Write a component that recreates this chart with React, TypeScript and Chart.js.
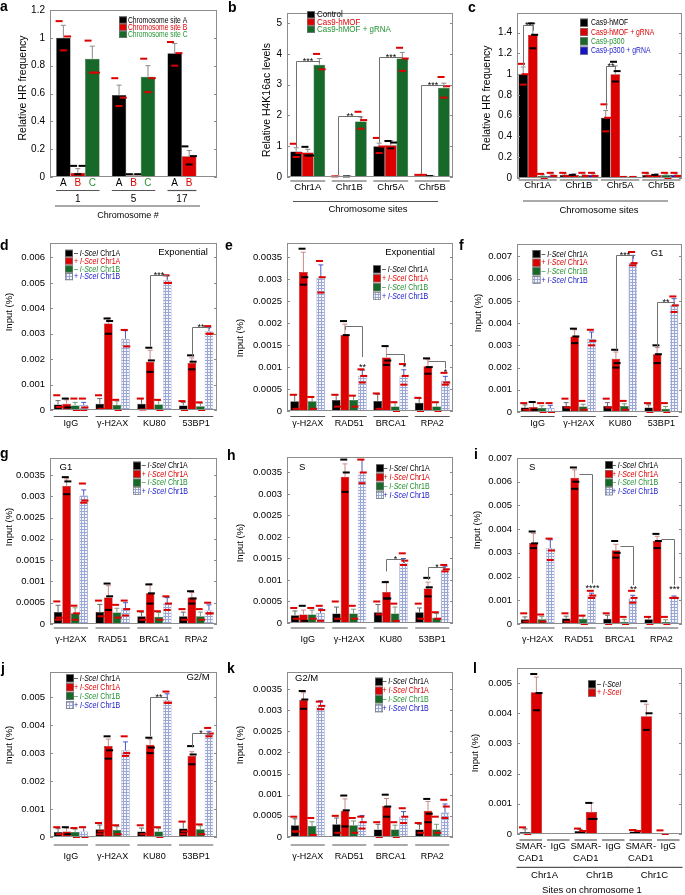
import React, { useEffect, useRef } from 'react';
import { Chart, registerables } from 'chart.js';
Chart.register(...registerables);

const FONT = '"Liberation Sans", Arial, Helvetica, sans-serif';
const RED = '#dc0000';
const GREEN = '#17692a';
const GREEN_TXT = '#249232';
const BLUE_TXT = '#2020cc';

// ---------------- Panel a ----------------
const aGroups = ['1', '5', '17'];
const aNames = ['Chromosome site A', 'Chromosome site B', 'Chromosome site C'];
const aBarLetters = ['A', 'B', 'C'];
const aTicks = [0, 0.2, 0.4, 0.6, 0.8, 1, 1.2];
const aValues = [[1.0, 0.59, 0.89], [0.03, 0.01, 0.15], [0.85, 0.72, null]];
const aErrors = [[0.09, 0.07, 0.07], [0.03, 0.01, 0.04], [0.09, 0.08, null]];
const aDots = [
  [[1.12, 1.01, 0.91], [0.71, 0.57, 0.51], [0.97, 0.89, 0.8]],
  [[0.08, 0.08, 0.02], [0.02, 0.02], [0.22, 0.15, 0.09]],
  [[0.98, 0.75, 0.75], [0.85, 0.71, 0.61], []],
];

// ---------------- Panel b ----------------
const bGroups = ['Chr1A', 'Chr1B', 'Chr5A', 'Chr5B'];
const bNames = ['Control', 'Cas9-hMOF', 'Cas9-hMOF + gRNA'];
const bTicks = [0, 1, 2, 3, 4, 5];
const bValues = [[0.83, 0.02, 1.0, 0.05], [0.8, 0.02, 1.03, 0.03], [3.65, 1.8, 3.85, 2.9]];
const bErrors = [[0.12, 0.01, 0.1, 0.02], [0.1, 0.01, 0.15, 0.01], [0.2, 0.15, 0.2, 0.15]];
const bDots = [
  [[1.08, 0.78, 0.65], [0.02], [1.27, 0.99, 0.78], [0.07, 0.07]],
  [[0.98, 0.7, 0.7], [0.02], [1.17, 1.12, 0.93], [0.03]],
  [[4.0, 3.5], [2.12, 1.85, 1.57], [4.2, 3.85, 3.45], [3.25, 2.95, 2.58]],
];

// ---------------- Panel c ----------------
const cGroups = ['Chr1A', 'Chr1B', 'Chr5A', 'Chr5B'];
const cNames = ['Cas9-hMOF', 'Cas9-hMOF + gRNA', 'Cas9-p300', 'Cas9-p300 + gRNA'];
const cTicks = [0, 0.2, 0.4, 0.6, 0.8, 1, 1.2, 1.4];
const cValues = [[1.0, 0.03, 0.58, 0.03], [1.38, 0.03, 1.0, 0.03], [0.02, 0.02, 0.01, 0.03], [0.02, 0.03, 0.01, 0.03]];
const cErrors = [[0.07, 0.01, 0.07, 0.01], [0.11, 0.01, 0.08, 0.01], [0.01, 0.01, 0.005, 0.01], [0.01, 0.01, 0.005, 0.01]];
const cDots = [
  [[1.1, 1.0, 0.9], [0.05, 0.02], [0.71, 0.58, 0.45], [0.05, 0.02]],
  [[1.49, 1.38, 1.25], [0.03], [1.12, 1.03, 0.93], [0.03]],
  [[0.04, 0.0], [0.05, 0.02], [0.01], [0.05, 0.0]],
  [[0.05, 0.02], [0.05, 0.02], [0.01], [0.05, 0.02]],
];

// ---------------- I-SceI panels (d-k) ----------------
const isceNames = ['– |I-SceI| Chr1A', '+ |I-SceI| Chr1A', '– |I-SceI| Chr1B', '+ |I-SceI| Chr1B'];
const groupsKU = ['IgG', 'γ-H2AX', 'KU80', '53BP1'];
const groupsRAD = ['γ-H2AX', 'RAD51', 'BRCA1', 'RPA2'];

const dTicks = [0, 0.001, 0.002, 0.003, 0.004, 0.005, 0.006];
const dValues = [[0.00022, 0.00025, 0.00025, 0.00018], [0.00025, 0.0034, 0.0019, 0.00185], [0.00018, 0.0002, 0.00022, 0.00015], [0.0002, 0.0028, 0.0051, 0.0031]];
const dErrors = [[0.00015, 0.0002, 0.0002, 0.00012], [0.00015, 0.00022, 0.00045, 0.0002], [0.00012, 0.00015, 0.00015, 0.00012], [0.0001, 0.00032, 0.00018, 0.00014]];
const dDots = [
  [[0.00058, 0.00012], [0.00058, 0.00005], [0.00045, 0.00002], [0.00035, 0.0]],
  [[0.00045, 0.0001], [0.0036, 0.0035, 0.003], [0.00245, 0.00195, 0.0015], [0.00215, 0.0019, 0.0016]],
  [[0.00045, 0.0], [0.0004, 0.0], [0.0004, 0.0], [0.0003, 0.0]],
  [[0.00045, 0.0001, 0.0], [0.00315, 0.0025], [0.0053, 0.005, 0.005], [0.0033, 0.003, 0.003]],
];

const eTicks = [0, 0.0005, 0.001, 0.0015, 0.002, 0.0025, 0.003, 0.0035];
const eValues = [[0.00022, 0.00025, 0.00023, 0.00019], [0.00317, 0.00173, 0.00122, 0.00102], [0.00022, 0.00025, 0.0001, 0.0001], [0.00303, 0.0008, 0.00079, 0.00069]];
const eErrors = [[0.00015, 0.00012, 0.00015, 0.0001], [0.00045, 0.00025, 0.00025, 0.00015], [0.0001, 0.0001, 0.0001, 0.0001], [0.0003, 0.00013, 0.00015, 0.0001]];
const eDots = [
  [[0.00037, 0.00005], [0.00037, 0.0001], [0.0004, 0.00005], [0.0003, 0.0]],
  [[0.0037, 0.00305, 0.00288], [0.00205, 0.00173], [0.00148, 0.00115, 0.00105], [0.0012, 0.001, 0.00085]],
  [[0.00032, 0.00005], [0.00035, 0.0001], [0.0002, 0.0], [0.0002, 0.0]],
  [[0.00342, 0.00305, 0.0027], [0.00095, 0.0008, 0.00065], [0.00107, 0.0008, 0.0006], [0.00087, 0.00065, 0.0006]],
];

const fTicks = [0, 0.001, 0.002, 0.003, 0.004, 0.005, 0.006, 0.007];
const fValues = [[0.0002, 0.00027, 0.00027, 0.0002], [0.00022, 0.0034, 0.0024, 0.0026], [0.00018, 0.00025, 0.00027, 0.00015], [0.00018, 0.0033, 0.0067, 0.0048]];
const fErrors = [[0.00012, 0.00015, 0.00015, 0.00012], [0.0002, 0.0003, 0.0003, 0.0003], [0.0001, 0.0001, 0.0001, 0.0001], [0.00012, 0.0003, 0.00035, 0.0003]];
const fDots = [
  [[0.0004, 0.0001], [0.0006, 0.0002], [0.0006, 0.0002], [0.0004, 0.0]],
  [[0.00045, 0.0001], [0.00375, 0.0034, 0.0031], [0.0028, 0.0022, 0.002], [0.003, 0.0026, 0.0022]],
  [[0.0004, 0.0], [0.0005, 0.0001], [0.0005, 0.0001], [0.0004, 0.0]],
  [[0.0004, 0.0], [0.0037, 0.0032, 0.003], [0.0072, 0.0067, 0.0066], [0.0052, 0.0048, 0.0045]],
];

const gTicks = [0, 0.0005, 0.001, 0.0015, 0.002, 0.0025, 0.003, 0.0035];
const gValues = [[0.00028, 0.00028, 0.00018, 0.00018], [0.00324, 0.00062, 0.00072, 0.00062], [0.00025, 0.00027, 0.00017, 0.00018], [0.00302, 0.00037, 0.00048, 0.00032]];
const gErrors = [[0.00016, 0.00018, 0.0001, 0.0001], [0.00017, 0.00028, 0.00022, 0.00012], [0.00013, 0.0001, 0.0001, 0.0001], [0.00013, 0.00013, 0.00014, 0.00013]];
const gDots = [
  [[0.00053, 0.00015, 0.0001], [0.00055, 0.00018], [0.0003, 0.0001], [0.00035, 0.0001]],
  [[0.00345, 0.00335, 0.00305], [0.00095, 0.00065, 0.00033], [0.00093, 0.00072, 0.00048], [0.00077, 0.0006, 0.00048]],
  [[0.00043, 0.00025, 0.0001], [0.00045, 0.00015], [0.0003, 0.0001], [0.00035, 0.0001]],
  [[0.0033, 0.0029, 0.00285], [0.00055, 0.00035, 0.0002], [0.00065, 0.00048, 0.00033], [0.0005, 0.00025, 0.00025]],
];

const hTicks = [0, 0.0005, 0.001, 0.0015, 0.002, 0.0025, 0.003, 0.0035];
const hValues = [[0.00018, 0.00022, 0.00025, 0.00025], [0.0002, 0.0034, 0.00072, 0.0008], [0.0002, 0.00022, 0.00022, 0.00012], [0.00023, 0.0035, 0.0014, 0.00122]];
const hErrors = [[0.0001, 0.00015, 0.00018, 0.0001], [0.0001, 0.0003, 0.00025, 0.00015], [0.0001, 0.0001, 0.00015, 0.0001], [0.0001, 0.0003, 0.0001, 0.0001]];
const hDots = [
  [[0.00035, 0.0001], [0.0005, 0.0001], [0.0005, 0.0002], [0.00045, 0.0001]],
  [[0.0004, 0.00005], [0.0038, 0.0035, 0.00305], [0.00095, 0.00057, 0.00057], [0.00105, 0.00083, 0.00062]],
  [[0.00035, 0.0001], [0.0004, 0.0001], [0.00045, 0.00005], [0.00025, 0.0001]],
  [[0.0004, 0.0003, 0.00005], [0.0038, 0.0035, 0.00325], [0.00162, 0.00145, 0.00135], [0.00135, 0.00125, 0.0012]],
];

const iTicks = [0, 0.001, 0.002, 0.003, 0.004, 0.005, 0.006, 0.007];
const iValues = [[0.0002, 0.00023, 0.00022, 0.0002], [0.00342, 0.00617, 0.00311, 0.0035], [0.0002, 0.00022, 0.0001, 0.00008], [0.0032, 0.0012, 0.00108, 0.00108]];
const iErrors = [[0.0001, 0.0001, 0.00015, 0.0001], [0.0004, 0.00033, 0.00025, 0.0002], [0.00012, 0.00015, 0.0001, 0.0001], [0.00035, 0.0001, 0.00013, 0.0001]];
const iDots = [
  [[0.00045, 0.0001], [0.00045, 0.0001], [0.00045, 0.0], [0.0003, 0.0]],
  [[0.0039, 0.0034, 0.0032], [0.0066, 0.006, 0.0057], [0.0035, 0.003, 0.0028], [0.0038, 0.0035, 0.0032]],
  [[0.0004, 0.0001], [0.00035, 0.0], [0.0003, 0.0], [0.0003, 0.0]],
  [[0.0036, 0.0031, 0.0027], [0.0014, 0.0012, 0.0011], [0.0014, 0.0011, 0.0009], [0.0011, 0.0011, 0.0011]],
];

const jTicks = [0, 0.001, 0.002, 0.003, 0.004, 0.005];
const jValues = [[0.00018, 0.00028, 0.0002, 0.0003], [0.0002, 0.00325, 0.0033, 0.0029], [0.00018, 0.00025, 0.0002, 0.00028], [0.0002, 0.0031, 0.0049, 0.00368]];
const jErrors = [[0.00012, 0.00015, 0.00012, 0.00025], [0.00012, 0.00025, 0.0002, 0.00015], [0.0001, 0.00012, 0.0001, 0.00012], [0.00015, 0.0003, 0.00022, 0.0001]];
const jDots = [
  [[0.00035, 0.0001], [0.0005, 0.0002, 0.0001], [0.00042, 0.0001], [0.00055, 0.0002, 0.0001]],
  [[0.00035, 0.0001], [0.0036, 0.0031, 0.0028], [0.00355, 0.0032, 0.003], [0.00325, 0.00295, 0.0026]],
  [[0.00032, 0.0], [0.00042, 0.0001], [0.00035, 0.0], [0.00045, 0.0001]],
  [[0.00035, 0.0], [0.0036, 0.003, 0.0029], [0.0052, 0.0048, 0.0048], [0.0039, 0.0037, 0.0036]],
];

const kTicks = [0, 0.0005, 0.001, 0.0015, 0.002, 0.0025, 0.003, 0.0035];
const kValues = [[0.00028, 0.0003, 0.00018, 0.00018], [0.00324, 0.00062, 0.00073, 0.00062], [0.00026, 0.00028, 0.00018, 0.00018], [0.0031, 0.00036, 0.00048, 0.00058]];
const kErrors = [[0.00015, 0.00015, 0.00012, 0.00012], [0.00017, 0.00028, 0.00018, 0.00022], [0.0001, 0.0001, 0.0001, 0.00012], [0.00012, 0.00015, 0.00012, 0.0002]];
const kDots = [
  [[0.00048, 0.00013, 0.00013], [0.0005, 0.0001], [0.00035, 0.0], [0.00033, 0.0001]],
  [[0.00345, 0.00325, 0.00303], [0.00098, 0.00063, 0.00025], [0.001, 0.00072, 0.00048], [0.0009, 0.00055, 0.00035]],
  [[0.00045, 0.00005], [0.00045, 0.0001], [0.00035, 0.0], [0.00048, 0.0001]],
  [[0.0032, 0.0031, 0.00302], [0.00048, 0.00035, 0.0002], [0.00068, 0.00048, 0.00033], [0.00088, 0.00072, 0.00045]],
];

// ---------------- Panel l ----------------
const lCategories = ['SMAR-\nCAD1', 'IgG', 'SMAR-\nCAD1', 'IgG', 'SMAR-\nCAD1', 'IgG'];
const lSites = ['Chr1A', 'Chr1B', 'Chr1C'];
const lNames = ['– |I-SceI|', '+ |I-SceI|'];
const lTicks = [0, 0.001, 0.002, 0.003, 0.004, 0.005];
const lValues = [[0.00007, 0, 0.0001, 0, 0.00008, 0], [0.0047, 0.00002, 0.00073, 0.00002, 0.0039, 0.00002]];
const lErrors = [[0.0001, 0, 0.00005, 0, 0.00005, 0], [0.0005, 0, 0.0003, 0, 0.0004, 0]];
const lDots = [
  [[0.00022, 0.0], [], [0.00018, 0.0001], [], [0.00013, 0.0001], [0.00012, 0.0]],
  [[0.0053, 0.00467, 0.0041], [], [0.00103, 0.0005, 0.0005], [], [0.0044, 0.004, 0.00345], []],
];

// ---------------- types & styles ----------------
type Series = {
  name: string; fill: string; text: string; values: (number | null)[]; errors: (number | null)[];
  dots: number[][]; dotColor: string; errColor: string; border: string;
};
type Bracket = { g: number; from: number; to: number; level: number; yL?: number; yR: number; text: string; labelY?: number; fromEdge?: string };
type Panel = {
  letter: string; letterPos: number[]; box: number[]; plot: number[]; yMax: number; ticks: number[]; tickSize: number;
  yTitle: string; yTitlePos: number[]; yTitleSize: number; categories: string[]; catPct: number; series: Series[];
  legend: { boxX: number; textX: number; rows: number[]; size: number; sx: number; boxH: number };
  note?: { text: string; x: number; y: number; align: string };
  brackets: Bracket[];
  xl: any;
};

const STYLE_BLACK = { fill: '#000000', text: '#000000', dotColor: RED, errColor: '#6a6a6a', border: '#333333' };
const STYLE_RED = { fill: RED, text: RED, dotColor: '#000000', errColor: '#c98a8a', border: '#8a0000' };
const STYLE_GREEN = { fill: GREEN, text: GREEN_TXT, dotColor: RED, errColor: '#7d9a80', border: '#0d3d17' };
const STYLE_PATTERN = { fill: 'pattern', text: BLUE_TXT, dotColor: RED, errColor: '#4a58c4', border: '#7f88b8' };
const STYLE_BLUE = { fill: '#1515c8', text: BLUE_TXT, dotColor: RED, errColor: '#6a6ab0', border: '#0a0a70' };

function mk(names: string[], styles: any[], values: any[][], errors: any[][], dots: number[][][]): Series[] {
  return names.map((n, i) => ({ name: n, ...styles[i], values: values[i], errors: errors[i], dots: dots[i] }));
}
const isceStyles = [STYLE_BLACK, STYLE_RED, STYLE_GREEN, STYLE_PATTERN];
const grayErr = (s: any) => ({ ...s, errColor: '#8a8a8a' });

const row2 = { under: { y: 416.5 }, labels: { y: 423.5, size: 9 } };
const row3 = { under: { y: 628 }, labels: { y: 639.5, size: 9 } };
const row4 = { under: { y: 845 }, labels: { y: 856.5, size: 9 } };
const LEG = { size: 9.5, sx: 0.74 };

const panels: Panel[] = [
  {
    letter: 'a', letterPos: [0, 11], box: [0, 0, 225, 225], plot: [50, 10, 217, 177], yMax: 1.2, ticks: aTicks, tickSize: 10,
    yTitle: 'Relative HR frequency', yTitlePos: [23, 88], yTitleSize: 10.5, categories: aGroups, catPct: 0.78,
    series: mk(aNames, [grayErr(STYLE_BLACK), grayErr(STYLE_RED), grayErr(STYLE_GREEN)], aValues, aErrors, aDots),
    legend: { boxX: 119, textX: 128, rows: [20, 27.2, 34.4], size: 9.5, sx: 0.71, boxH: 7 },
    brackets: [],
    xl: { perBar: { y: 183.5, letters: aBarLetters, size: 10 }, under: { y: 190.5 }, labels: { y: 199.5, size: 10 }, long: { x1: 55, x2: 200, y: 206 }, title: { text: 'Chromosome #', x: 128, y: 216, size: 9 } },
  },
  {
    letter: 'b', letterPos: [228, 12], box: [225, 0, 230, 225], plot: [287, 13, 453, 177], yMax: 5.33, ticks: bTicks, tickSize: 10,
    yTitle: 'Relative H4K16ac levels', yTitlePos: [267, 100], yTitleSize: 10.5, categories: bGroups, catPct: 0.84,
    series: mk(bNames, [grayErr(STYLE_BLACK), grayErr(STYLE_RED), grayErr(STYLE_GREEN)], bValues, bErrors, bDots),
    legend: { boxX: 307, textX: 317, rows: [14.7, 22, 29.3], size: 9.5, sx: 0.84, boxH: 7 },
    brackets: [
      { g: 0, from: 0, to: 2, level: 3.78, yL: 0.97, yR: 3.7, text: '***' },
      { g: 1, from: 0, to: 2, level: 1.98, yL: 0.06, yR: 1.9, text: '**' },
      { g: 2, from: 0, to: 2, level: 3.9, yL: 1.12, yR: 3.86, text: '***' },
      { g: 3, from: 0, to: 2, level: 2.98, yL: 0.1, yR: 2.92, text: '***' },
    ],
    xl: { under: { y: 181 }, labels: { y: 187, size: 9.5 }, long: { x1: 293, x2: 438, y: 201.5 }, title: { text: 'Chromosome sites', x: 368, y: 209.5, size: 9.5 } },
  },
  {
    letter: 'c', letterPos: [468, 12], box: [455, 0, 230, 225], plot: [517, 13, 682, 178], yMax: 1.59, ticks: cTicks, tickSize: 10,
    yTitle: 'Relative HR frequency', yTitlePos: [487, 98], yTitleSize: 10.5, categories: cGroups, catPct: 0.93,
    series: mk(cNames, [grayErr(STYLE_BLACK), grayErr(STYLE_RED), grayErr(STYLE_GREEN), grayErr(STYLE_BLUE)], cValues, cErrors, cDots),
    legend: { boxX: 580, textX: 591, rows: [22.7, 32, 41.3, 50.7], size: 9.5, sx: 0.72, boxH: 8 },
    brackets: [
      { g: 0, from: 0, to: 1, level: 1.47, yL: 1.08, yR: 1.42, text: '**' },
      { g: 2, from: 0, to: 1, level: 1.08, yL: 0.66, yR: 1.05, text: '**' },
    ],
    xl: { under: { y: 180 }, labels: { y: 185.5, size: 9.5 }, long: { x1: 523, x2: 668, y: 201 }, title: { text: 'Chromosome sites', x: 599, y: 210, size: 9.5 } },
  },
  {
    letter: 'd', letterPos: [0, 250], box: [0, 225, 225, 205], plot: [50, 243, 217, 410], yMax: 0.00657, ticks: dTicks, tickSize: 9.5,
    yTitle: 'Input (%)', yTitlePos: [9, 312], yTitleSize: 9.5, categories: groupsKU, catPct: 0.82,
    series: mk(isceNames, isceStyles, dValues, dErrors, dDots),
    legend: { boxX: 65, textX: 74, rows: [253.3, 261, 269, 276.7], ...LEG, boxH: 7 },
    note: { text: 'Exponential', x: 183, y: 252, align: 'center' },
    brackets: [
      { g: 2, from: 1, to: 3, level: 0.0053, yL: 0.0025, yR: 0.00515, text: '***' },
      { g: 3, from: 1, to: 3, level: 0.00328, yL: 0.0021, yR: 0.00318, text: '**' },
    ],
    xl: row2,
  },
  {
    letter: 'e', letterPos: [225, 250], box: [225, 225, 230, 205], plot: [287, 243, 453, 411], yMax: 0.00383, ticks: eTicks, tickSize: 9.5,
    yTitle: 'Input (%)', yTitlePos: [240, 338], yTitleSize: 9.5, categories: groupsRAD, catPct: 0.84,
    series: mk(isceNames, isceStyles, eValues, eErrors, eDots),
    legend: { boxX: 373, textX: 382, rows: [269.3, 278.3, 287.3, 296], ...LEG, boxH: 8 },
    note: { text: 'Exponential', x: 410, y: 252.7, align: 'center' },
    brackets: [
      { g: 1, from: 1, to: 3, level: 0.00193, yL: 0.00185, yR: 0.00123, text: '**', labelY: 0.00101 },
      { g: 2, from: 1, to: 3, level: 0.00131, yL: 0.00128, yR: 0.0011, text: '*', labelY: 0.00101 },
      { g: 3, from: 1, to: 3, level: 0.00114, yL: 0.00111, yR: 0.00097, text: '*', labelY: 0.00088 },
    ],
    xl: row2,
  },
  {
    letter: 'f', letterPos: [459, 250], box: [455, 225, 230, 205], plot: [517, 244, 682, 412], yMax: 0.00756, ticks: fTicks, tickSize: 9.5,
    yTitle: 'Input (%)', yTitlePos: [478, 313], yTitleSize: 9.5, categories: groupsKU, catPct: 0.82,
    series: mk(isceNames, isceStyles, fValues, fErrors, fDots),
    legend: { boxX: 532.5, textX: 541.5, rows: [254, 262.7, 271.3, 280], ...LEG, boxH: 8 },
    note: { text: 'G1', x: 657, y: 253.3, align: 'center' },
    brackets: [
      { g: 2, from: 1, to: 3, level: 0.00707, yL: 0.0028, yR: 0.0069, text: '***' },
      { g: 3, from: 1, to: 3, level: 0.00497, yL: 0.0029, yR: 0.0048, text: '**' },
    ],
    xl: row2,
  },
  {
    letter: 'g', letterPos: [0, 457.7], box: [0, 430, 225, 215], plot: [50, 458, 217, 624], yMax: 0.0039, ticks: gTicks, tickSize: 9.5,
    yTitle: 'Input (%)', yTitlePos: [9, 527], yTitleSize: 9.5, categories: groupsRAD, catPct: 0.82,
    series: mk(isceNames, isceStyles, gValues, gErrors, gDots),
    legend: { boxX: 133, textX: 141.7, rows: [465.7, 474, 482.7, 491], ...LEG, boxH: 8 },
    note: { text: 'G1', x: 59.5, y: 467.3, align: 'left' },
    brackets: [],
    xl: row3,
  },
  {
    letter: 'h', letterPos: [227, 460], box: [225, 430, 230, 215], plot: [287, 457, 453, 623], yMax: 0.00386, ticks: hTicks, tickSize: 9.5,
    yTitle: 'Input (%)', yTitlePos: [240, 543], yTitleSize: 9.5, categories: groupsKU, catPct: 0.82,
    series: mk(isceNames, isceStyles, hValues, hErrors, hDots),
    legend: { boxX: 376, textX: 383.5, rows: [468.3, 477.3, 486.3, 495], ...LEG, boxH: 8 },
    note: { text: 'S', x: 299, y: 467.3, align: 'left' },
    brackets: [
      { g: 2, from: 1, to: 3, level: 0.00148, yL: 0.0012, yR: 0.0014, text: '*' },
      { g: 3, from: 1, to: 3, level: 0.00131, yL: 0.001, yR: 0.00125, text: '*' },
    ],
    xl: row3,
  },
  {
    letter: 'i', letterPos: [474, 459], box: [455, 430, 230, 215], plot: [517, 458, 682, 624], yMax: 0.007, ticks: iTicks, tickSize: 9.5,
    yTitle: 'Input (%)', yTitlePos: [477, 530], yTitleSize: 9.5, categories: groupsRAD, catPct: 0.82,
    series: mk(isceNames, isceStyles, iValues, iErrors, iDots),
    legend: { boxX: 605, textX: 612, rows: [465, 474, 482.7, 491.3], ...LEG, boxH: 8 },
    note: { text: 'S', x: 529, y: 467.3, align: 'left' },
    brackets: [
      { g: 1, from: 1, to: 3, level: 0.00634, yR: 0.00171, text: '****', labelY: 0.00152, fromEdge: 'r' },
      { g: 2, from: 1, to: 3, level: 0.0033, yR: 0.00164, text: '**', labelY: 0.00147, fromEdge: 'r' },
      { g: 3, from: 1, to: 3, level: 0.0036, yR: 0.00164, text: '***', labelY: 0.00147, fromEdge: 'r' },
    ],
    xl: row3,
  },
  {
    letter: 'j', letterPos: [1, 673.3], box: [0, 645, 225, 250], plot: [50, 672, 217, 837], yMax: 0.0059, ticks: jTicks, tickSize: 9.5,
    yTitle: 'Input (%)', yTitlePos: [9, 745], yTitleSize: 9.5, categories: groupsKU, catPct: 0.82,
    series: mk(isceNames, isceStyles, jValues, jErrors, jDots),
    legend: { boxX: 66, textX: 74, rows: [678.3, 687.3, 696, 705], ...LEG, boxH: 8 },
    note: { text: 'G2/M', x: 198, y: 677.3, align: 'center' },
    brackets: [
      { g: 2, from: 1, to: 3, level: 0.00502, yL: 0.0036, yR: 0.0049, text: '**' },
      { g: 3, from: 1, to: 3, level: 0.00373, yL: 0.0032, yR: 0.00363, text: '*' },
    ],
    xl: row4,
  },
  {
    letter: 'k', letterPos: [227, 673.3], box: [225, 645, 230, 250], plot: [287, 672, 453, 837], yMax: 0.0039, ticks: kTicks, tickSize: 9.5,
    yTitle: 'Input (%)', yTitlePos: [240, 745], yTitleSize: 9.5, categories: groupsRAD, catPct: 0.82,
    series: mk(isceNames, isceStyles, kValues, kErrors, kDots),
    legend: { boxX: 375, textX: 382.5, rows: [681.7, 690.7, 699.3, 708.3], ...LEG, boxH: 8 },
    note: { text: 'G2/M', x: 295, y: 678.3, align: 'left' },
    brackets: [],
    xl: row4,
  },
  {
    letter: 'l', letterPos: [473, 673.3], box: [455, 645, 230, 250], plot: [517, 668, 682, 834], yMax: 0.0055, ticks: lTicks, tickSize: 9.5,
    yTitle: 'Input (%)', yTitlePos: [475, 753], yTitleSize: 9.5, categories: lCategories, catPct: 0.82,
    series: mk(lNames, [STYLE_BLACK, STYLE_RED], lValues, lErrors, lDots),
    legend: { boxX: 588, textX: 597, rows: [684.3, 692.7], ...LEG, boxH: 8 },
    brackets: [],
    xl: {
      under: { y: 840 }, labels: { y: 846.7, size: 9.5, lineH: 11.6 },
      groups: { size: 2, lineY: 867.3, labelY: 875.7, labels: lSites, size2: 9.5 },
      title: { text: 'Sites on chromosome 1', x: 592, y: 890.5, size: 9.5 },
    },
  },
];

// ---------------- drawing helpers ----------------
function txt(ctx: CanvasRenderingContext2D, s: string, x: number, y: number, o: any = {}) {
  ctx.save();
  ctx.font = `${o.italic ? 'italic ' : ''}${o.bold ? 'bold ' : ''}${o.size || 9}px ${FONT}`;
  ctx.fillStyle = o.color || '#000';
  ctx.textAlign = o.align || 'left';
  ctx.textBaseline = o.base || 'middle';
  ctx.translate(x, y);
  if (o.rot) ctx.rotate(o.rot);
  if (o.sx) ctx.scale(o.sx, 1);
  ctx.fillText(s, 0, 0);
  ctx.restore();
}

function richText(ctx: CanvasRenderingContext2D, label: string, x: number, y: number, size: number, color: string, sx: number) {
  const parts = label.split('|');
  let cx = x;
  parts.forEach((part, i) => {
    ctx.save();
    ctx.font = `${i % 2 ? 'italic ' : ''}${size}px ${FONT}`;
    const w = ctx.measureText(part).width * sx;
    ctx.restore();
    txt(ctx, part, cx, y, { size, color, italic: i % 2 === 1, sx });
    cx += w;
  });
}

let patternSource: HTMLCanvasElement | null = null;
function getPattern(ctx: CanvasRenderingContext2D) {
  if (!patternSource) {
    const c = document.createElement('canvas');
    c.width = 3; c.height = 3;
    const g = c.getContext('2d')!;
    g.fillStyle = '#f4f6fc'; g.fillRect(0, 0, 3, 3);
    g.fillStyle = '#9aa6d4'; g.fillRect(0, 0, 3, 1); g.fillRect(0, 0, 1, 3);
    patternSource = c;
  }
  return ctx.createPattern(patternSource, 'repeat');
}

function drawPanel(chart: any, p: Panel) {
  const ctx: CanvasRenderingContext2D = chart.ctx;
  const [bx, by] = p.box;
  const [l, t, r, b] = p.plot;
  const ys = chart.scales.y;
  const Y = (v: number) => ys.getPixelForValue(v) + by;
  const bar = (si: number, gi: number) => {
    const el: any = chart.getDatasetMeta(si).data[gi];
    return { x: el.x + bx, w: el.width };
  };
  ctx.save();
  ctx.translate(-bx, -by);

  // error bars
  p.series.forEach((s, si) => {
    s.values.forEach((v, gi) => {
      if (v == null) return;
      const e = s.errors[gi];
      if (!e) return;
      const { x } = bar(si, gi);
      const y1 = Y(v), y2 = Y(v + e);
      ctx.strokeStyle = s.errColor; ctx.lineWidth = 1;
      ctx.beginPath();
      ctx.moveTo(x, y1); ctx.lineTo(x, y2);
      ctx.moveTo(x - 2.5, y2); ctx.lineTo(x + 2.5, y2);
      ctx.stroke();
    });
  });

  // individual replicate dashes
  const offs = [-1, 1, 0, 0.5];
  p.series.forEach((s, si) => {
    s.dots.forEach((arr, gi) => {
      if (s.values[gi] == null) return;
      const { x, w } = bar(si, gi);
      arr.forEach((d, k) => {
        const dx = offs[k % offs.length] * Math.max(0, w / 2 - 3);
        ctx.fillStyle = s.dotColor;
        ctx.fillRect(x + dx - 3.5, Y(d) - 1, 7, 2);
      });
    });
  });

  // frame
  ctx.strokeStyle = '#8c8c8c'; ctx.lineWidth = 1;
  ctx.strokeRect(l + 0.5, t + 0.5, r - l - 1, b - t - 1);

  // ticks
  p.ticks.forEach((v) => {
    const y = Math.round(Y(v)) + 0.5;
    ctx.strokeStyle = '#8c8c8c';
    ctx.beginPath();
    ctx.moveTo(l, y); ctx.lineTo(l + 3, y);
    ctx.moveTo(r - 3, y); ctx.lineTo(r, y);
    ctx.stroke();
    txt(ctx, String(v), l - 5, Y(v), { size: p.tickSize, align: 'right' });
  });

  // y title
  txt(ctx, p.yTitle, p.yTitlePos[0], p.yTitlePos[1], { size: p.yTitleSize, align: 'center', rot: -Math.PI / 2 });

  // brackets
  p.brackets.forEach((bk) => {
    const A = bar(bk.from, bk.g), B = bar(bk.to, bk.g);
    const x1 = Math.round(bk.fromEdge === 'r' ? A.x + A.w / 2 : A.x) + 0.5;
    const x2 = Math.round(B.x) + 0.5;
    const yl = Math.round(Y(bk.level)) + 0.5;
    ctx.strokeStyle = '#707070'; ctx.lineWidth = 1;
    ctx.beginPath();
    if (bk.yL != null) { ctx.moveTo(x1, Y(bk.yL)); ctx.lineTo(x1, yl); } else ctx.moveTo(x1, yl);
    ctx.lineTo(x2, yl); ctx.lineTo(x2, Y(bk.yR));
    ctx.stroke();
    if (bk.labelY != null) txt(ctx, bk.text, x2, Y(bk.labelY) + 3, { size: 9, align: 'center', base: 'alphabetic' });
    else txt(ctx, bk.text, (x1 + x2) / 2, yl + 2, { size: 9, align: 'center', base: 'alphabetic' });
  });

  // legend
  const lg = p.legend;
  p.series.forEach((s, si) => {
    const yc = lg.rows[si];
    const bh = lg.boxH;
    ctx.fillStyle = s.fill === 'pattern' ? (getPattern(ctx) as any) : s.fill;
    ctx.fillRect(lg.boxX, yc - bh / 2, 8, bh);
    ctx.strokeStyle = '#7a7a7a'; ctx.lineWidth = 0.7;
    ctx.strokeRect(lg.boxX + 0.35, yc - bh / 2 + 0.35, 8 - 0.7, bh - 0.7);
    richText(ctx, s.name, lg.textX, yc, lg.size, s.text, lg.sx);
  });

  // note
  if (p.note) txt(ctx, p.note.text, p.note.x, p.note.y, { size: 9.5, align: p.note.align });

  // panel letter
  txt(ctx, p.letter, p.letterPos[0], p.letterPos[1], { size: 14, bold: true, base: 'alphabetic' });

  // x labels
  const xl = p.xl;
  const ext = (gi: number) => {
    let lo = Infinity, hi = -Infinity;
    p.series.forEach((s, si) => {
      if (s.values[gi] == null) return;
      const { x, w } = bar(si, gi);
      lo = Math.min(lo, x - w / 2); hi = Math.max(hi, x + w / 2);
    });
    return [lo, hi];
  };
  p.categories.forEach((c, gi) => {
    const [lo, hi] = ext(gi);
    if (xl.perBar) {
      p.series.forEach((s, si) => {
        if (s.values[gi] == null) return;
        txt(ctx, xl.perBar.letters[si], bar(si, gi).x, xl.perBar.y, { size: xl.perBar.size, align: 'center', color: s.text });
      });
    }
    if (xl.under) {
      ctx.strokeStyle = '#555'; ctx.lineWidth = 1.2;
      ctx.beginPath(); ctx.moveTo(lo, xl.under.y); ctx.lineTo(hi, xl.under.y); ctx.stroke();
    }
    if (xl.labels) {
      const lines = c.split('\n');
      lines.forEach((ln, li) => txt(ctx, ln, (lo + hi) / 2, xl.labels.y + li * (xl.labels.lineH || 11), { size: xl.labels.size, align: 'center' }));
    }
  });
  if (xl.groups) {
    const gs = xl.groups;
    gs.labels.forEach((lab: string, k: number) => {
      const [lo] = ext(k * gs.size);
      const [, hi] = ext(k * gs.size + gs.size - 1);
      const x1 = lo - 3, x2 = hi + 3;
      ctx.strokeStyle = '#555'; ctx.lineWidth = 1.2;
      ctx.beginPath(); ctx.moveTo(x1, gs.lineY); ctx.lineTo(x2, gs.lineY); ctx.stroke();
      txt(ctx, lab, (x1 + x2) / 2, gs.labelY, { size: gs.size2, align: 'center' });
    });
  }
  if (xl.long) {
    ctx.strokeStyle = '#555'; ctx.lineWidth = 1.2;
    ctx.beginPath(); ctx.moveTo(xl.long.x1, xl.long.y); ctx.lineTo(xl.long.x2, xl.long.y); ctx.stroke();
  }
  if (xl.title) txt(ctx, xl.title.text, xl.title.x, xl.title.y, { size: xl.title.size, align: 'center' });

  ctx.restore();
}

function PanelChart({ p }: { p: Panel }) {
  const ref = useRef<HTMLCanvasElement>(null);
  useEffect(() => {
    const canvas = ref.current!;
    const ctx = canvas.getContext('2d')!;
    const [bx, by, bw, bh] = p.box;
    const [l, t, r, b] = p.plot;
    const chart = new Chart(canvas, {
      type: 'bar',
      data: {
        labels: p.categories,
        datasets: p.series.map((s) => ({
          label: s.name,
          data: s.values as any,
          backgroundColor: s.fill === 'pattern' ? (getPattern(ctx) as any) : s.fill,
          borderColor: s.border,
          borderWidth: 0.5,
          barPercentage: 1,
          categoryPercentage: p.catPct,
        })),
      },
      options: {
        responsive: false,
        animation: false,
        devicePixelRatio: 1,
        events: [],
        layout: { padding: { left: l - bx, top: t - by, right: bx + bw - r, bottom: by + bh - b } },
        plugins: { legend: { display: false }, tooltip: { enabled: false } },
        scales: {
          x: { display: false },
          y: { display: false, min: 0, max: p.yMax },
        },
      },
      plugins: [{ id: 'decor' + p.letter, afterDatasetsDraw: (c: any) => drawPanel(c, p) }],
    });
    return () => chart.destroy();
  }, []);
  return (
    <canvas
      ref={ref}
      width={p.box[2]}
      height={p.box[3]}
      style={{ position: 'absolute', left: p.box[0], top: p.box[1], width: p.box[2], height: p.box[3] }}
    />
  );
}

export default function App() {
  return (
    <div style={{ position: 'absolute', left: 0, top: 0, width: 685, height: 895, background: '#fff' }}>
      {panels.map((p) => (
        <PanelChart key={p.letter} p={p} />
      ))}
    </div>
  );
}
